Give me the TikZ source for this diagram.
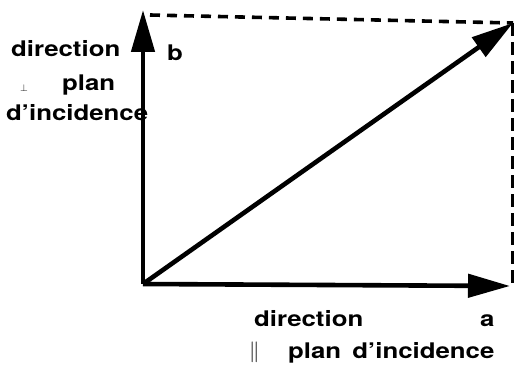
\documentclass[tikz,border=0pt]{standalone}
\usepackage{fontspec}
\setmainfont{TeX Gyre Heros}
\newfontfamily\widefont[FakeStretch=1.2]{TeX Gyre Heros}
\usetikzlibrary{arrows.meta}
\begin{document}
\begin{tikzpicture}[x=1pt,y=-1pt,
  vec/.style={line width=4.6pt,-{Triangle[length=42pt,width=23pt]}},
  dashln/.style={line width=3.6pt,dash pattern=on 10pt off 7pt},
  lab/.style={font=\widefont\bfseries\fontsize{21.5}{24}\selectfont,inner sep=0pt,anchor=base west}]
\useasboundingbox (0,0) rectangle (514,369);
\coordinate (O) at (143,284);
\coordinate (B) at (143,10);
\coordinate (A) at (510,286);
\coordinate (C) at (513,23);
\coordinate (Bt) at (150,15);
\coordinate (D) at (513,283);
\draw[dashln] (Bt) -- (C);
\draw[dashln,dash pattern=on 13pt off 6pt] (C) -- (D);
\draw[vec] (O) -- (B);
\draw[vec] (O) -- (A);
\draw[vec] (O) -- (C);
\node[lab] (t1) at (11,57) {direction};
\node[lab] (t2) at (20,92) {\fontsize{10}{10}\selectfont$\perp$};
\node[lab] (t3) at (62,90) {plan};
\node[lab] (t4) at (6,120) {d’incidence};
\node[lab] (tb) at (167,60) {b};
\node[lab] (t5) at (254,326) {direction};
\node[lab] (ta) at (480,326) {a};
\node[lab] (t6) at (249,357) {\fontsize{20}{20}\selectfont$\|$};
\node[lab] (t7) at (288,358) {plan\hspace{4pt} d’incidence};
\end{tikzpicture}
\end{document}
